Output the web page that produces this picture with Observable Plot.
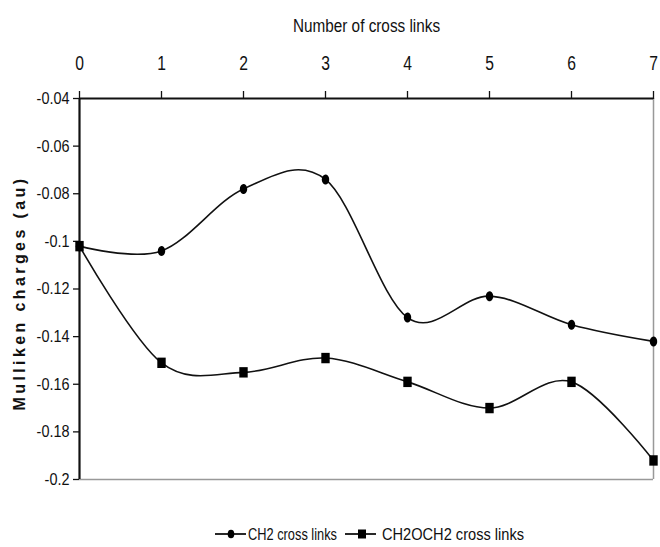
<!DOCTYPE html>
<html>
<head>
<meta charset="utf-8">
<script src="https://cdn.jsdelivr.net/npm/d3@7"></script>
<script src="https://cdn.jsdelivr.net/npm/@observablehq/plot@0.6"></script>
<style>
  body { margin: 0; background: #fff; }
  #chart svg, #legend svg { display: block; }
</style>
</head>
<body>
<div id="chart"></div>
<div id="legend"></div>
<script>
const crossLinks = [0, 1, 2, 3, 4, 5, 6, 7];
const ch2 = [-0.102, -0.104, -0.078, -0.074, -0.132, -0.123, -0.135, -0.142];
const ch2och2 = [-0.102, -0.151, -0.155, -0.149, -0.159, -0.170, -0.159, -0.192];
const seriesNames = ["CH2 cross links", "CH2OCH2 cross links"];
const yTicks = [-0.04, -0.06, -0.08, -0.1, -0.12, -0.14, -0.16, -0.18, -0.2];
const xTicks = [0, 1, 2, 3, 4, 5, 6, 7];
const xTitle = "Number of cross links";
const yTitle = "Mulliken charges (au)";

const rowsA = crossLinks.map((x, i) => ({x, y: ch2[i], s: seriesNames[0]}));
const rowsB = crossLinks.map((x, i) => ({x, y: ch2och2[i], s: seriesNames[1]}));

const ellipseSym = {draw(ctx) {
  const rx = 3.7, ry = 5, k = 0.5523;
  ctx.moveTo(rx, 0);
  ctx.bezierCurveTo(rx, ry * k, rx * k, ry, 0, ry);
  ctx.bezierCurveTo(-rx * k, ry, -rx, ry * k, -rx, 0);
  ctx.bezierCurveTo(-rx, -ry * k, -rx * k, -ry, 0, -ry);
  ctx.bezierCurveTo(rx * k, -ry, rx, -ry * k, rx, 0);
  ctx.closePath();
}};
const rectSym = {draw(ctx) { ctx.rect(-4.2, -5.2, 8.4, 10.4); }};

const FF = '"Liberation Sans", Arial, sans-serif';

const chart = Plot.plot({
  width: 660,
  height: 505,
  marginLeft: 79,
  marginRight: 7,
  marginTop: 98,
  marginBottom: 26,
  style: {fontFamily: FF, color: "#111", background: "#fff"},
  x: {domain: [0, 7]},
  y: {domain: [-0.2, -0.04]},
  marks: [
    Plot.ruleX([7], {stroke: "#999", strokeWidth: 1.5}),
    Plot.ruleY([-0.2], {stroke: "#999", strokeWidth: 1.5}),
    Plot.axisX({anchor: "top", ticks: xTicks, tickSize: 8, tickPadding: 21, fontSize: 20, label: null, stroke: "#111", strokeWidth: 1.3, tickFormat: d => String(d)}),
    Plot.axisY({anchor: "left", ticks: yTicks, tickSize: 6, tickPadding: 4, fontSize: 17, label: null, stroke: "#111", strokeWidth: 1.3, tickFormat: d => String(d)}),
    Plot.ruleY([-0.04], {stroke: "#111", strokeWidth: 2.2}),
    Plot.ruleX([0], {stroke: "#111", strokeWidth: 2.2}),
    Plot.line(rowsA, {x: "x", y: "y", curve: "cardinal", stroke: "#111", strokeWidth: 1.6}),
    Plot.line(rowsB, {x: "x", y: "y", curve: "cardinal", stroke: "#111", strokeWidth: 1.6}),
    Plot.dot(rowsA, {x: "x", y: "y", symbol: ellipseSym, fill: "#000", stroke: "none"}),
    Plot.dot(rowsB, {x: "x", y: "y", symbol: rectSym, fill: "#000", stroke: "none"}),
    Plot.text([xTitle], {frameAnchor: "top", dy: -79, fontSize: 18, fill: "#111"}),
    Plot.text([yTitle], {frameAnchor: "left", textAnchor: "middle", dx: -60, dy: 4, rotate: -90, fontSize: 16, fontWeight: "bold", fill: "#111"})
  ]
});
document.getElementById("chart").appendChild(chart);

function condense(sel, ratio) {
  sel.each(function() {
    const L = this.getComputedTextLength();
    this.setAttribute("textLength", (L * ratio).toFixed(1));
    this.setAttribute("lengthAdjust", "spacingAndGlyphs");
  });
}

const svg = d3.select(chart);
svg.select('g[aria-label="x-axis tick label"]').selectAll("text").call(condense, 0.78);
svg.select('g[aria-label="y-axis tick label"]').selectAll("text").call(condense, 0.85);
svg.selectAll("text").filter(function() { return this.textContent === xTitle; }).call(condense, 0.85);
svg.selectAll("text").filter(function() { return this.textContent === yTitle; }).style("letter-spacing", "3.4px");

// legend
const lg = d3.select("#legend").append("svg").attr("width", 660).attr("height", 42)
  .attr("font-family", FF).attr("font-size", 17).attr("fill", "#111");
const cy = 29;
const legendItems = [
  {name: seriesNames[0], lineX: 215, textX: 248, textW: 89, sym: "circle"},
  {name: seriesNames[1], lineX: 345, textX: 382, textW: 142, sym: "square"}
];
legendItems.forEach(it => {
  lg.append("line").attr("x1", it.lineX).attr("x2", it.lineX + 31).attr("y1", cy).attr("y2", cy)
    .attr("stroke", "#111").attr("stroke-width", 1.8);
  if (it.sym === "circle") lg.append("ellipse").attr("cx", it.lineX + 16).attr("cy", cy).attr("rx", 3.3).attr("ry", 4.3).attr("fill", "#000");
  else lg.append("rect").attr("x", it.lineX + 13).attr("y", cy - 4.5).attr("width", 8).attr("height", 9).attr("fill", "#000");
  lg.append("text").attr("x", it.textX).attr("y", cy).attr("dy", "0.36em")
    .attr("textLength", it.textW).attr("lengthAdjust", "spacingAndGlyphs").text(it.name);
});
</script>
</body>
</html>
